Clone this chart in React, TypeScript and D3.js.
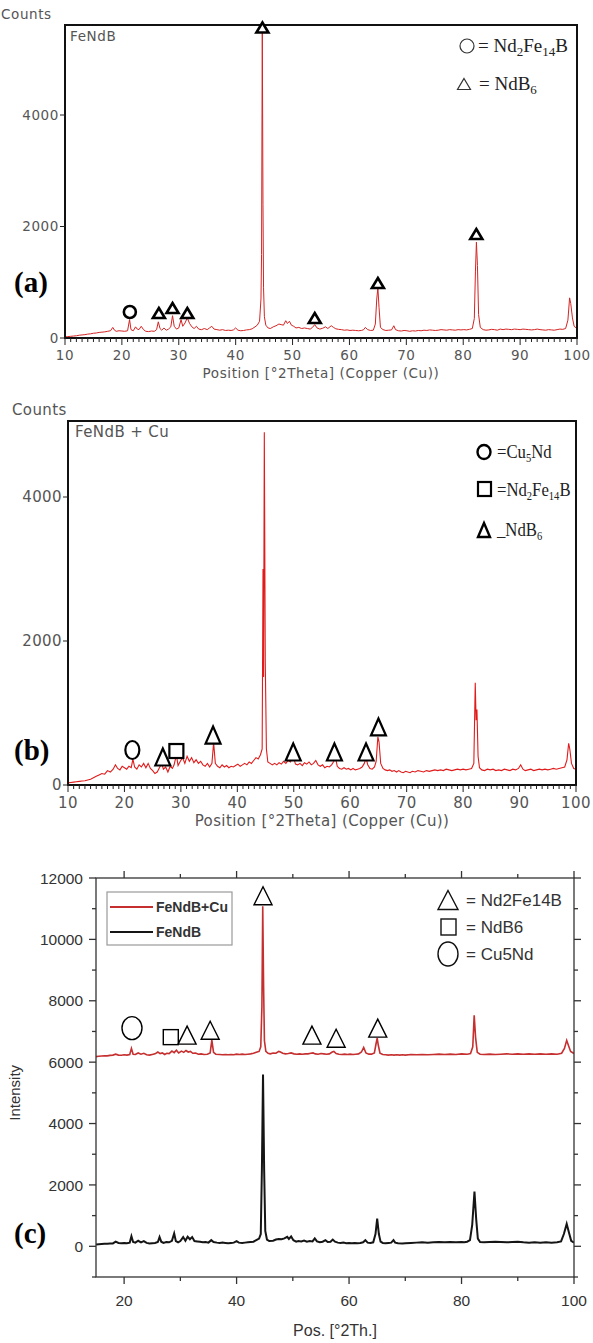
import React from 'react';
import * as d3 from 'd3';

type Pt = [number, number];
type Mark = { shape: 'circle' | 'triangle' | 'square'; theta: number; counts: number };

// ---- shared axis ticks ----
const thetaTicksAB = [10, 20, 30, 40, 50, 60, 70, 80, 90, 100];
const countTicksAB = [0, 2000, 4000];
const thetaTicksC = [20, 40, 60, 80, 100];
const thetaMinorC = [30, 50, 70, 90];
const intensityTicksC = [0, 2000, 4000, 6000, 8000, 10000, 12000];
const intensityMinorC = [-1000, 1000, 3000, 5000, 7000, 9000, 11000];

// ---- panel (a): FeNdB ----
const feNdB_a: Pt[] = [
  [10, 20], [10.5, 25], [11, 30], [11.5, 35], [12, 40], [12.5, 50], [13, 55], [13.5, 60], [14, 70], [14.5, 75],
  [15, 85], [15.5, 90], [16, 100], [16.5, 105], [17, 110], [17.5, 120], [18, 130], [18.4, 190], [18.7, 140], [19, 120],
  [19.5, 130], [20, 125], [20.5, 120], [21, 130], [21.35, 330], [21.6, 150], [22, 130], [22.4, 200], [22.7, 160], [23, 150],
  [23.4, 210], [23.8, 150], [24.2, 120], [24.7, 115], [25.2, 125], [25.7, 120], [26.1, 150], [26.4, 290], [26.7, 170], [27, 140],
  [27.4, 180], [27.8, 140], [28.2, 160], [28.6, 200], [28.9, 400], [29.2, 210], [29.6, 160], [30, 180], [30.4, 330], [30.7, 210],
  [31.1, 270], [31.5, 360], [31.9, 260], [32.3, 200], [32.7, 170], [33.1, 210], [33.5, 160], [34, 150], [34.5, 170], [35, 150],
  [35.4, 180], [35.8, 210], [36.2, 160], [36.7, 150], [37.2, 140], [37.7, 150], [38.2, 135], [38.7, 140], [39.2, 135], [39.6, 145],
  [40, 180], [40.4, 140], [40.9, 130], [41.4, 135], [41.9, 145], [42.4, 150], [42.9, 165], [43.4, 200], [43.8, 230], [44.2, 300],
  [44.45, 700], [44.55, 1500], [44.68, 5560], [44.8, 2400], [44.9, 900], [45.05, 380], [45.3, 230], [45.7, 180], [46.1, 170], [46.6, 200],
  [47.1, 220], [47.6, 250], [48, 240], [48.4, 230], [48.8, 310], [49.1, 260], [49.45, 300], [49.8, 230], [50.2, 210], [50.6, 180],
  [51.1, 190], [51.6, 170], [52.1, 180], [52.6, 170], [53.1, 160], [53.5, 190], [53.9, 240], [54.3, 180], [54.8, 160], [55.3, 175],
  [55.8, 200], [56.2, 170], [56.8, 220], [57.2, 190], [57.6, 165], [58.1, 155], [58.6, 150], [59.1, 140], [59.6, 145], [60.1, 135],
  [60.6, 140], [61.1, 135], [61.6, 130], [62.1, 135], [62.5, 150], [62.8, 190], [63.2, 150], [63.7, 135], [64.2, 140], [64.55, 250],
  [64.8, 700], [65, 900], [65.2, 550], [65.45, 190], [65.9, 150], [66.4, 135], [66.9, 140], [67.4, 145], [67.8, 220], [68.1, 150],
  [68.6, 130], [69.1, 125], [69.6, 135], [70.1, 130], [70.6, 120], [71.1, 130], [71.6, 125], [72.1, 135], [72.6, 130], [73.1, 140],
  [73.6, 135], [74.1, 145], [74.6, 140], [75.1, 135], [75.6, 140], [76.1, 150], [76.6, 145], [77.1, 140], [77.6, 150], [78.1, 145],
  [78.6, 140], [79.1, 150], [79.6, 145], [80.1, 150], [80.6, 145], [81.1, 155], [81.6, 170], [81.95, 350], [82.15, 1200], [82.32, 1720],
  [82.5, 1300], [82.7, 420], [83, 190], [83.5, 150], [84, 140], [84.5, 145], [85, 155], [85.5, 150], [86, 140], [86.5, 160],
  [87, 150], [87.5, 160], [88, 155], [88.5, 150], [89, 160], [89.5, 155], [90, 150], [90.5, 160], [91, 155], [91.5, 150],
  [92, 145], [92.5, 150], [93, 160], [93.5, 150], [94, 145], [94.5, 140], [95, 150], [95.5, 145], [96, 140], [96.5, 150],
  [97, 160], [97.5, 155], [98, 170], [98.4, 320], [98.7, 720], [98.9, 620], [99.2, 360], [99.5, 210], [100, 170],
];
const marksA: Mark[] = [
  { shape: 'circle', theta: 21.4, counts: 466 },
  { shape: 'triangle', theta: 26.5, counts: 448 },
  { shape: 'triangle', theta: 28.9, counts: 538 },
  { shape: 'triangle', theta: 31.5, counts: 448 },
  { shape: 'triangle', theta: 44.7, counts: 5570 },
  { shape: 'triangle', theta: 53.9, counts: 359 },
  { shape: 'triangle', theta: 65.0, counts: 987 },
  { shape: 'triangle', theta: 82.3, counts: 1866 },
];

// ---- panel (b): FeNdB + Cu ----
const feNdBCu_b: Pt[] = [
  [10, 30], [10.5, 35], [11, 40], [11.5, 45], [12, 50], [12.5, 55], [13, 60], [13.5, 70], [14, 80], [14.5, 100],
  [15, 120], [15.5, 140], [16, 160], [16.5, 150], [17, 200], [17.5, 180], [18, 220], [18.4, 280], [18.8, 230], [19.2, 210],
  [19.6, 260], [20, 240], [20.4, 220], [20.8, 260], [21.2, 240], [21.5, 360], [21.8, 250], [22.2, 220], [22.6, 280], [23, 250],
  [23.4, 300], [23.8, 240], [24.2, 300], [24.6, 230], [25, 200], [25.4, 160], [25.8, 180], [26.2, 240], [26.6, 300], [26.9, 220],
  [27.3, 250], [27.7, 180], [28.1, 260], [28.5, 230], [28.8, 280], [29.2, 420], [29.5, 270], [29.9, 330], [30.3, 380], [30.7, 300],
  [31.1, 400], [31.5, 330], [31.9, 380], [32.3, 310], [32.7, 350], [33.1, 300], [33.5, 330], [33.9, 280], [34.3, 260], [34.7, 300],
  [35.1, 250], [35.5, 300], [35.8, 590], [36.1, 300], [36.5, 260], [36.9, 240], [37.3, 280], [37.7, 250], [38.1, 270], [38.5, 240],
  [38.9, 260], [39.3, 250], [39.7, 270], [40.1, 290], [40.5, 260], [40.9, 280], [41.3, 300], [41.7, 280], [42.1, 320], [42.5, 300],
  [42.9, 340], [43.3, 380], [43.7, 360], [44.1, 420], [44.4, 500], [44.55, 3000], [44.65, 1500], [44.78, 4900], [44.95, 1700], [45.15, 500],
  [45.4, 320], [45.8, 300], [46.2, 280], [46.6, 300], [47, 280], [47.4, 310], [47.8, 290], [48.2, 330], [48.6, 300], [49, 340],
  [49.4, 320], [49.9, 400], [50.3, 290], [50.7, 280], [51.1, 300], [51.5, 270], [51.9, 310], [52.3, 290], [52.7, 320], [53.1, 280],
  [53.5, 300], [53.9, 340], [54.3, 280], [54.7, 260], [55.1, 280], [55.5, 240], [55.9, 260], [56.3, 250], [56.7, 280], [57.1, 330],
  [57.4, 380], [57.7, 260], [58.1, 230], [58.5, 220], [58.9, 240], [59.3, 220], [59.7, 230], [60.1, 210], [60.5, 230], [60.9, 210],
  [61.3, 220], [61.7, 230], [62.1, 250], [62.5, 300], [62.8, 380], [63.1, 280], [63.5, 230], [63.9, 220], [64.3, 250], [64.6, 330],
  [64.9, 670], [65.1, 600], [65.4, 300], [65.8, 230], [66.2, 210], [66.6, 200], [67, 210], [67.4, 190], [67.8, 200], [68.2, 180],
  [68.6, 200], [69, 180], [69.4, 170], [69.8, 190], [70.2, 180], [70.6, 170], [71, 190], [71.5, 180], [72, 200], [72.5, 190],
  [73, 180], [73.5, 200], [74, 190], [74.5, 200], [75, 210], [75.5, 200], [76, 210], [76.5, 200], [77, 220], [77.5, 210],
  [78, 200], [78.5, 210], [79, 220], [79.5, 210], [80, 220], [80.5, 210], [81, 220], [81.5, 230], [81.9, 300], [82.15, 1420],
  [82.3, 900], [82.45, 1050], [82.65, 400], [82.9, 240], [83.3, 210], [83.8, 200], [84.3, 220], [84.8, 210], [85.3, 220], [85.8, 200],
  [86.3, 210], [86.8, 200], [87.3, 220], [87.8, 210], [88.3, 200], [88.8, 220], [89.3, 210], [89.8, 230], [90.2, 280], [90.6, 220],
  [91, 200], [91.5, 210], [92, 220], [92.5, 200], [93, 210], [93.5, 220], [94, 210], [94.5, 220], [95, 210], [95.5, 220],
  [96, 230], [96.5, 220], [97, 230], [97.5, 240], [98, 250], [98.4, 350], [98.7, 580], [98.9, 500], [99.2, 300], [99.6, 230],
  [100, 220],
];
const marksB: Mark[] = [
  { shape: 'circle', theta: 21.4, counts: 486 },
  { shape: 'triangle', theta: 26.8, counts: 389 },
  { shape: 'square', theta: 29.2, counts: 472 },
  { shape: 'triangle', theta: 35.7, counts: 694 },
  { shape: 'triangle', theta: 49.9, counts: 458 },
  { shape: 'triangle', theta: 57.2, counts: 458 },
  { shape: 'triangle', theta: 62.8, counts: 458 },
  { shape: 'triangle', theta: 65.0, counts: 806 },
];

// ---- panel (c): comparison ----
const feNdBCu_c: Pt[] = [
  [15, 6180], [15.5, 6190], [16, 6200], [16.5, 6210], [17, 6205], [17.5, 6220], [18, 6230], [18.5, 6260], [19, 6230], [19.5, 6225],
  [20, 6240], [20.5, 6230], [21, 6250], [21.3, 6450], [21.6, 6260], [22, 6250], [22.5, 6300], [23, 6260], [23.5, 6290], [24, 6240],
  [24.5, 6230], [25, 6250], [25.5, 6270], [26, 6330], [26.4, 6280], [26.8, 6300], [27.2, 6250], [27.6, 6290], [28, 6280], [28.5, 6360],
  [28.9, 6310], [29.3, 6390], [29.7, 6300], [30.2, 6360], [30.6, 6320], [31, 6380], [31.4, 6330], [31.8, 6350], [32.2, 6290], [32.7, 6300],
  [33.2, 6260], [33.7, 6270], [34.2, 6250], [34.8, 6260], [35.3, 6300], [35.6, 6720], [35.9, 6320], [36.3, 6260], [37, 6250], [37.5, 6240],
  [38, 6250], [38.5, 6240], [39, 6250], [39.5, 6240], [40, 6260], [40.5, 6250], [41, 6260], [41.5, 6250], [42, 6260], [42.5, 6270],
  [43, 6290], [43.5, 6320], [44, 6350], [44.3, 6500], [44.5, 7800], [44.65, 11080], [44.8, 8500], [44.95, 6700], [45.2, 6350], [45.6, 6290],
  [46, 6270], [46.5, 6300], [47, 6290], [47.5, 6350], [47.8, 6330], [48.2, 6290], [48.7, 6270], [49.2, 6280], [49.7, 6300], [50.2, 6270],
  [50.7, 6260], [51.2, 6270], [51.7, 6260], [52.2, 6270], [52.7, 6270], [53.2, 6290], [53.6, 6300], [54, 6270], [54.5, 6260], [55, 6280],
  [55.5, 6270], [56, 6260], [56.5, 6270], [57, 6330], [57.3, 6350], [57.7, 6280], [58.2, 6260], [58.7, 6250], [59.2, 6260], [59.7, 6250],
  [60.2, 6260], [60.7, 6250], [61.2, 6260], [61.7, 6270], [62.2, 6330], [62.6, 6480], [63, 6300], [63.5, 6260], [64, 6260], [64.5, 6300],
  [64.8, 6600], [65, 6780], [65.2, 6550], [65.5, 6290], [66, 6250], [66.5, 6240], [67, 6230], [67.5, 6240], [68, 6230], [68.5, 6240],
  [69, 6230], [69.5, 6240], [70, 6230], [71, 6250], [72, 6240], [73, 6250], [74, 6240], [75, 6250], [76, 6260], [77, 6250],
  [78, 6260], [79, 6250], [80, 6270], [81, 6260], [81.6, 6280], [82, 6500], [82.25, 7530], [82.5, 6800], [82.8, 6320], [83.3, 6260],
  [84, 6250], [85, 6260], [86, 6250], [87, 6260], [88, 6270], [89, 6260], [90, 6270], [91, 6260], [92, 6270], [93, 6260],
  [94, 6270], [95, 6260], [96, 6270], [97, 6260], [97.8, 6290], [98.3, 6450], [98.7, 6710], [99, 6550], [99.4, 6350], [100, 6280],
];
const feNdB_c: Pt[] = [
  [15, 60], [15.5, 70], [16, 75], [16.5, 80], [17, 85], [17.5, 90], [18, 95], [18.5, 150], [19, 110], [19.5, 100],
  [20, 110], [20.5, 100], [21, 120], [21.3, 330], [21.6, 140], [22, 120], [22.5, 180], [23, 130], [23.5, 170], [24, 110],
  [24.5, 90], [25, 100], [25.5, 110], [26, 140], [26.3, 300], [26.6, 150], [27, 110], [27.5, 140], [28, 130], [28.5, 180],
  [28.9, 420], [29.2, 170], [29.6, 130], [30, 170], [30.5, 300], [30.9, 180], [31.3, 310], [31.7, 230], [32.1, 300], [32.5, 170],
  [33, 160], [33.5, 150], [34, 130], [34.5, 140], [35, 120], [35.5, 200], [35.9, 140], [36.5, 120], [37, 110], [37.5, 120],
  [38, 110], [38.5, 100], [39, 110], [39.5, 120], [40, 170], [40.4, 120], [41, 110], [41.5, 120], [42, 130], [42.5, 140],
  [43, 150], [43.5, 200], [44, 250], [44.3, 400], [44.5, 2500], [44.7, 5600], [44.9, 2500], [45.1, 500], [45.4, 220], [45.8, 170],
  [46.5, 180], [47, 220], [47.5, 240], [48, 230], [48.5, 260], [49, 310], [49.3, 240], [49.7, 320], [50.1, 200], [50.6, 150],
  [51, 170], [51.5, 160], [52, 190], [52.5, 150], [53, 170], [53.5, 160], [53.9, 260], [54.3, 160], [54.8, 130], [55.3, 150],
  [55.8, 200], [56.2, 140], [56.7, 150], [57.1, 220], [57.5, 150], [58, 120], [58.5, 110], [59, 120], [59.5, 100], [60, 110],
  [60.5, 100], [61, 110], [61.5, 100], [62, 110], [62.5, 130], [62.9, 200], [63.3, 120], [63.8, 110], [64.3, 130], [64.7, 400],
  [65, 900], [65.3, 400], [65.6, 150], [66, 110], [66.5, 100], [67, 110], [67.5, 120], [67.9, 200], [68.2, 120], [68.7, 100],
  [69.5, 90], [70, 100], [71, 110], [72, 120], [73, 130], [74, 120], [75, 130], [76, 140], [77, 130], [78, 140],
  [79, 130], [80, 140], [80.5, 130], [81, 150], [81.5, 200], [81.9, 700], [82.3, 1780], [82.6, 900], [82.9, 250], [83.3, 140],
  [84, 130], [85, 140], [86, 150], [87, 140], [88, 130], [89, 140], [90, 150], [91, 130], [92, 120], [93, 130],
  [94, 120], [95, 130], [96, 120], [97, 130], [97.7, 160], [98.2, 400], [98.7, 730], [99.1, 450], [99.5, 180], [100, 120],
];
const marksC: Mark[] = [
  { shape: 'circle', theta: 21.4, counts: 7110 },
  { shape: 'square', theta: 28.3, counts: 6815 },
  { shape: 'triangle', theta: 31.2, counts: 6880 },
  { shape: 'triangle', theta: 35.3, counts: 7040 },
  { shape: 'triangle', theta: 44.7, counts: 11420 },
  { shape: 'triangle', theta: 53.4, counts: 6880 },
  { shape: 'triangle', theta: 57.7, counts: 6780 },
  { shape: 'triangle', theta: 65.1, counts: 7110 },
];
const seriesNamesC = ['FeNdB+Cu', 'FeNdB'];

const tri = (cx: number, cy: number, w: number, h: number) =>
  `M${cx},${cy - h / 2}L${cx + w / 2},${cy + h / 2}L${cx - w / 2},${cy + h / 2}Z`;

type MarkStyle = { tw: number; th: number; rx: number; ry: number; sq: number; sw: number };

function Marker({ m, x, y, st }: { m: Mark; x: number; y: number; st: MarkStyle }) {
  const common = { fill: '#fff', stroke: '#000', strokeWidth: st.sw };
  if (m.shape === 'circle') return <ellipse cx={x} cy={y} rx={st.rx} ry={st.ry} {...common} />;
  if (m.shape === 'square')
    return <rect x={x - st.sq / 2} y={y - st.sq / 2} width={st.sq} height={st.sq} {...common} />;
  return <path d={tri(x, y, st.tw, st.th)} {...common} strokeLinejoin="miter" />;
}

type PanelCfg = {
  id: string;
  left: number;
  right: number;
  top: number;
  y0: number;
  y4000: number;
  font: number;
  spacing: number;
  color: string;
  lineW: number;
};

function PanelXrd({ cfg, data, marks, st, name, namePos, countsX, letter, letterY, children }: any) {
  const x = d3.scaleLinear().domain([10, 100]).range([cfg.left, cfg.right]);
  const y = d3.scaleLinear().domain([0, 4000]).range([cfg.y0, cfg.y4000]);
  const line = d3.line<Pt>().x(d => x(d[0])).y(d => y(d[1]));
  const minor = d3.range(10, 101, 1);
  const txt = { fontFamily: 'DejaVu Sans, sans-serif', fill: '#555', letterSpacing: cfg.spacing };
  return (
    <g>
      <defs>
        <clipPath id={`clip-${cfg.id}`}>
          <rect x={cfg.left} y={cfg.top} width={cfg.right - cfg.left} height={cfg.y0 - cfg.top} />
        </clipPath>
      </defs>
      <text x={countsX} y={cfg.top - 6} fontSize={cfg.font} {...txt}>Counts</text>
      <text x={namePos[0]} y={namePos[1]} fontSize={cfg.font} {...txt}>{name}</text>
      <path d={line(data) || ''} fill="none" stroke={cfg.color} strokeWidth={cfg.lineW} clipPath={`url(#clip-${cfg.id})`} />
      <rect x={cfg.left} y={cfg.top} width={cfg.right - cfg.left} height={cfg.y0 - cfg.top} fill="none" stroke="#111" strokeWidth={2} />
      {minor.map(t => (
        <line key={t} x1={x(t)} x2={x(t)} y1={cfg.y0} y2={cfg.y0 + (t % 10 === 0 ? 7 : 4)} stroke="#222" strokeWidth={1} />
      ))}
      {thetaTicksAB.map(t => (
        <text key={t} x={x(t)} y={cfg.y0 + 8 + cfg.font} textAnchor="middle" fontSize={cfg.font} {...txt}>{t}</text>
      ))}
      {countTicksAB.map(c => (
        <g key={c}>
          <line x1={cfg.left - 5} x2={cfg.left} y1={y(c)} y2={y(c)} stroke="#222" />
          <text x={cfg.left - 6} y={y(c)} dy="0.35em" textAnchor="end" fontSize={cfg.font} {...txt}>{c}</text>
        </g>
      ))}
      <text x={(cfg.left + cfg.right) / 2} y={cfg.y0 + 26 + cfg.font} textAnchor="middle" fontSize={cfg.font} {...txt}>
        Position [°2Theta] (Copper (Cu))
      </text>
      {marks.map((m: Mark, i: number) => (
        <Marker key={i} m={m} x={x(m.theta)} y={y(m.counts)} st={st} />
      ))}
      <text x={14} y={letterY} fontFamily="Liberation Serif, serif" fontWeight="bold" fontSize={29}>{letter}</text>
      {children}
    </g>
  );
}

function PanelC() {
  const left = 96, right = 574, top = 878, bottom = 1277;
  const x = d3.scaleLinear().domain([15, 100]).range([left, right]);
  const y = d3.scaleLinear().domain([-1000, 12000]).range([bottom, top]);
  const line = d3.line<Pt>().x(d => x(d[0])).y(d => y(d[1]));
  const st: MarkStyle = { tw: 18, th: 18, rx: 10, ry: 11.5, sq: 15, sw: 1.4 };
  const txt = { fontFamily: 'Liberation Sans, Arial, sans-serif', fill: '#333' };
  const ax = '#333';
  return (
    <g>
      <defs>
        <clipPath id="clip-c">
          <rect x={left} y={top} width={right - left} height={bottom - top} />
        </clipPath>
      </defs>
      <g clipPath="url(#clip-c)">
        <path d={line(feNdB_c) || ''} fill="none" stroke="#151515" strokeWidth={2} />
        <path d={line(feNdBCu_c) || ''} fill="none" stroke="#c62f2f" strokeWidth={1.6} />
      </g>
      <rect x={left} y={top} width={right - left} height={bottom - top} fill="none" stroke={ax} strokeWidth={1.3} />
      {thetaTicksC.map(t => (
        <g key={t}>
          <line x1={x(t)} x2={x(t)} y1={bottom} y2={bottom + 7} stroke={ax} strokeWidth={1.3} />
          <line x1={x(t)} x2={x(t)} y1={top} y2={top - 7} stroke={ax} strokeWidth={1.3} />
          <text x={x(t)} y={bottom + 29} textAnchor="middle" fontSize={15.5} {...txt}>{t}</text>
        </g>
      ))}
      {thetaMinorC.map(t => (
        <g key={t}>
          <line x1={x(t)} x2={x(t)} y1={bottom} y2={bottom + 4} stroke={ax} strokeWidth={1.3} />
          <line x1={x(t)} x2={x(t)} y1={top} y2={top - 4} stroke={ax} strokeWidth={1.3} />
        </g>
      ))}
      {intensityTicksC.map(c => (
        <g key={c}>
          <line x1={left - 7} x2={left} y1={y(c)} y2={y(c)} stroke={ax} strokeWidth={1.3} />
          <line x1={right} x2={right + 7} y1={y(c)} y2={y(c)} stroke={ax} strokeWidth={1.3} />
          <text x={left - 13} y={y(c)} dy="0.36em" textAnchor="end" fontSize={15.5} {...txt}>{c}</text>
        </g>
      ))}
      {intensityMinorC.map(c => (
        <g key={c}>
          <line x1={left - 4} x2={left} y1={y(c)} y2={y(c)} stroke={ax} strokeWidth={1.3} />
          <line x1={right} x2={right + 4} y1={y(c)} y2={y(c)} stroke={ax} strokeWidth={1.3} />
        </g>
      ))}
      <text x={x(57.5)} y={1336} textAnchor="middle" fontSize={16} {...txt}>Pos. [°2Th.]</text>
      <text transform={`translate(20,${y(5000)}) rotate(-90)`} textAnchor="middle" fontSize={15} {...txt}>Intensity</text>
      {marksC.map((m, i) => (
        <Marker key={i} m={m} x={x(m.theta)} y={y(m.counts)} st={st} />
      ))}
      {/* series legend */}
      <rect x={107} y={892} width={125} height={53} fill="#fff" stroke="#9a9a9a" strokeWidth={1.2} />
      <line x1={110} x2={153} y1={907} y2={907} stroke="#c62f2f" strokeWidth={2} />
      <text x={156} y={912} fontSize={14} fontWeight="bold" {...txt}>{seriesNamesC[0]}</text>
      <line x1={110} x2={153} y1={932} y2={932} stroke="#151515" strokeWidth={2} />
      <text x={156} y={937} fontSize={14} fontWeight="bold" {...txt}>{seriesNamesC[1]}</text>
      {/* phase legend */}
      <path d={tri(448, 900, 20, 19)} fill="none" stroke="#111" strokeWidth={1.4} />
      <text x={466} y={906} fontSize={17} {...txt}>= Nd2Fe14B</text>
      <rect x={441} y={919} width={15} height={16} fill="none" stroke="#111" strokeWidth={1.4} />
      <text x={466} y={933} fontSize={17} {...txt}>= NdB6</text>
      <ellipse cx={448} cy={954} rx={10} ry={12} fill="none" stroke="#111" strokeWidth={1.4} />
      <text x={466} y={960} fontSize={17} {...txt}>= Cu5Nd</text>
      <text x={14} y={1243} fontFamily="Liberation Serif, serif" fontWeight="bold" fontSize={29}>(c)</text>
    </g>
  );
}

const serif = 'Liberation Serif, Times New Roman, serif';

export default function App() {
  const cfgA: PanelCfg = { id: 'a', left: 65, right: 577, top: 25, y0: 338, y4000: 115, font: 13.5, spacing: 0.6, color: '#d42424', lineW: 1 };
  const cfgB: PanelCfg = { id: 'b', left: 68, right: 576, top: 421, y0: 785, y4000: 497, font: 15, spacing: 0.4, color: '#e01b1b', lineW: 1.1 };
  const stA: MarkStyle = { tw: 12, th: 10, rx: 6, ry: 6, sq: 11, sw: 2.6 };
  const stB: MarkStyle = { tw: 15, th: 17, rx: 7, ry: 9, sq: 14, sw: 2.2 };
  return (
    <svg width={593} height={1343} style={{ position: 'absolute', left: 0, top: 0, background: '#fff' }}>
      <rect width={593} height={1343} fill="#fff" />
      <PanelXrd cfg={cfgA} data={feNdB_a} marks={marksA} st={stA} name="FeNdB" namePos={[70, 41]} countsX={1}
        letter="(a)" letterY={292}>
        <ellipse cx={467} cy={46} rx={7} ry={7} fill="none" stroke="#333" strokeWidth={1.2} />
        <text x={478} y={52} fontFamily={serif} fontSize={19} fill="#222">
          = Nd<tspan dy={4} fontSize={13}>2</tspan><tspan dy={-4}>Fe</tspan><tspan dy={4} fontSize={13}>14</tspan><tspan dy={-4}>B</tspan>
        </text>
        <path d={tri(464, 84, 13, 11)} fill="none" stroke="#333" strokeWidth={1.2} />
        <text x={479} y={90} fontFamily={serif} fontSize={19} fill="#222">
          = NdB<tspan dy={4} fontSize={13}>6</tspan>
        </text>
      </PanelXrd>
      <PanelXrd cfg={cfgB} data={feNdBCu_b} marks={marksB} st={stB} name="FeNdB + Cu" namePos={[75, 437]} countsX={12}
        letter="(b)" letterY={760}>
        <g transform="translate(497,0) scale(0.88,1)">
          <text x={0} y={458} fontFamily={serif} fontSize={19} fill="#222">=Cu<tspan dy={4} fontSize={12}>5</tspan><tspan dy={-4}>Nd</tspan></text>
          <text x={0} y={496} fontFamily={serif} fontSize={19} fill="#222">
            =Nd<tspan dy={4} fontSize={12}>2</tspan><tspan dy={-4}>Fe</tspan><tspan dy={4} fontSize={12}>14</tspan><tspan dy={-4}>B</tspan>
          </text>
          <text x={0} y={536} fontFamily={serif} fontSize={19} fill="#222">_NdB<tspan dy={4} fontSize={12}>6</tspan></text>
        </g>
        <ellipse cx={484} cy={452} rx={6.5} ry={7} fill="none" stroke="#000" strokeWidth={2.4} />
        <rect x={478} y={482} width={13} height={14} fill="none" stroke="#000" strokeWidth={2.2} />
        <path d={tri(484, 530, 12, 14)} fill="none" stroke="#000" strokeWidth={2.4} />
      </PanelXrd>
      <PanelC />
    </svg>
  );
}
